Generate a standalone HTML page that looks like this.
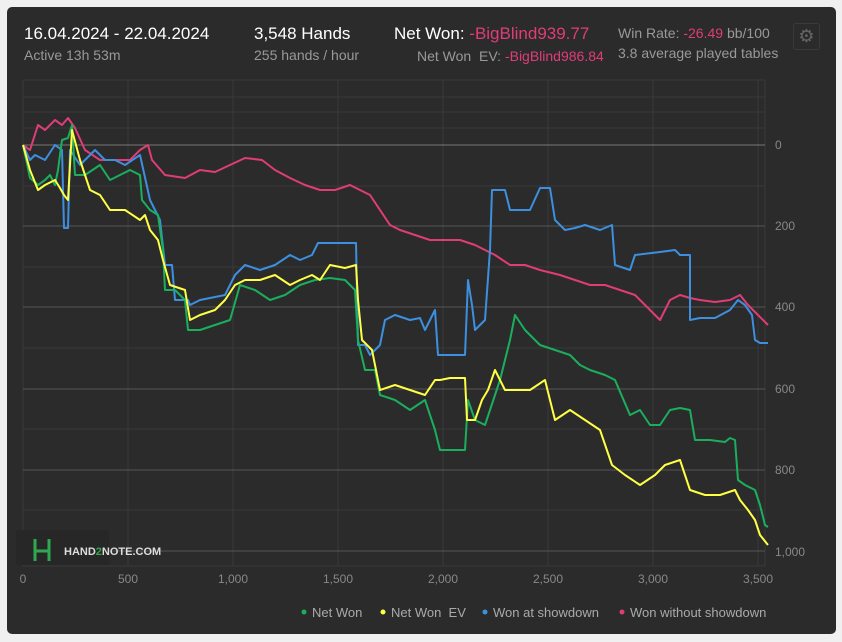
<!DOCTYPE html>
<html><head><meta charset="utf-8"><style>
body{margin:0;background:#f0f0f0;width:842px;height:642px;overflow:hidden;font-family:"Liberation Sans",sans-serif}
.panel{position:absolute;left:7px;top:7px;width:829px;height:627px;background:#2b2b2b;border-radius:5px}
.t{position:absolute;white-space:nowrap}
</style></head><body>
<div class="panel"></div>
<div class="t" style="left:24px;top:24px;color:#fff;font-size:17px">16.04.2024 - 22.04.2024</div>
<div class="t" style="left:24px;top:47px;color:#999;font-size:14px">Active 13h 53m</div>
<div class="t" style="left:254px;top:24px;color:#fff;font-size:17px">3,548 Hands</div>
<div class="t" style="left:254px;top:47px;color:#999;font-size:14px">255 hands / hour</div>
<div class="t" style="left:394px;top:24px;color:#fff;font-size:17px">Net Won: <span style="color:#e03c78">-BigBlind939.77</span></div>
<div class="t" style="left:417px;top:48px;color:#999;font-size:14px">Net Won&nbsp; EV: <span style="color:#e03c78">-BigBlind986.84</span></div>
<div class="t" style="left:618px;top:25px;color:#999;font-size:14px">Win Rate: <span style="color:#e03c78">-26.49</span> bb/100</div>
<div class="t" style="left:618px;top:45px;color:#999;font-size:14px">3.8 average played tables</div>
<div style="position:absolute;left:793px;top:23px;width:25px;height:25px;border:1px solid #3a3a3a;border-radius:3px;color:#666;font-size:18px;text-align:center;line-height:25px">⚙</div>
<svg style="position:absolute;left:0;top:0" width="842" height="642">
<g stroke="#3a3a3a" stroke-width="1">
<line x1="23" y1="80" x2="765" y2="80"/><line x1="23" y1="97" x2="765" y2="97"/><line x1="23" y1="112" x2="765" y2="112"/><line x1="23" y1="128" x2="765" y2="128"/>
<line x1="23" y1="186" x2="765" y2="186"/><line x1="23" y1="267" x2="765" y2="267"/><line x1="23" y1="348" x2="765" y2="348"/><line x1="23" y1="429" x2="765" y2="429"/><line x1="23" y1="510" x2="765" y2="510"/>
<line x1="23" y1="80" x2="23" y2="566"/><line x1="128" y1="80" x2="128" y2="566"/><line x1="233" y1="80" x2="233" y2="566"/><line x1="338" y1="80" x2="338" y2="566"/><line x1="443" y1="80" x2="443" y2="566"/><line x1="548" y1="80" x2="548" y2="566"/><line x1="653" y1="80" x2="653" y2="566"/><line x1="758" y1="80" x2="758" y2="566"/><line x1="765" y1="80" x2="765" y2="566"/>
<line x1="23" y1="566" x2="765" y2="566"/>
</g>
<g stroke="#555" stroke-width="1">
<line x1="23" y1="145" x2="765" y2="145" stroke="#777"/><line x1="23" y1="226" x2="765" y2="226"/><line x1="23" y1="307" x2="765" y2="307"/><line x1="23" y1="389" x2="765" y2="389"/><line x1="23" y1="470" x2="765" y2="470"/><line x1="23" y1="551" x2="765" y2="551"/>
</g>
<g font-size="12" fill="#888" font-family="Liberation Sans,sans-serif">
<text x="775" y="149">0</text><text x="775" y="230">200</text><text x="775" y="311">400</text><text x="775" y="393">600</text><text x="775" y="474">800</text><text x="775" y="556">1,000</text>
<g text-anchor="middle"><text x="23" y="583">0</text><text x="128" y="583">500</text><text x="233" y="583">1,000</text><text x="338" y="583">1,500</text><text x="443" y="583">2,000</text><text x="548" y="583">2,500</text><text x="653" y="583">3,000</text><text x="758" y="583">3,500</text></g>
</g>
<rect x="16" y="530" width="93" height="35" fill="#272727"/>
<path d="M35 539v22M49 539v22M35 551h14" stroke="#2fa84f" stroke-width="3" fill="none"/>
<text x="64" y="555" font-size="11" font-weight="bold" fill="#ddd" font-family="Liberation Sans,sans-serif">HAND<tspan fill="#2fa84f">2</tspan>NOTE.COM</text>
<g fill="none" stroke-width="2" stroke-linejoin="round">
<polyline stroke="#e03c78" points="23,145 30,150 38,125 45,130 55,120 62,125 68,118 75,128 85,150 100,160 115,160 130,160 140,150 148,145 152,160 165,175 185,178 200,170 215,172 230,165 245,158 262,160 275,170 290,178 305,185 320,190 335,190 350,185 370,195 380,210 390,225 400,230 415,235 430,240 445,240 460,240 475,245 485,250 495,255 510,265 525,265 540,270 560,275 575,280 590,285 605,285 620,290 635,295 650,310 660,320 670,300 680,295 690,298 700,300 715,302 730,300 740,295 748,305 758,315 768,325"/>
<polyline stroke="#3d8fe0" points="23,145 30,160 35,155 45,160 55,145 62,150 64,228 68,228 70,150 80,165 95,150 105,160 115,160 125,165 140,155 150,200 160,220 165,265 172,265 175,300 188,300 190,305 200,300 225,295 235,275 245,265 260,270 275,265 290,255 300,260 312,255 318,243 330,243 356,243 358,345 365,345 370,355 380,345 385,320 395,315 410,320 420,318 425,330 435,310 438,355 465,355 468,280 472,305 475,330 485,320 490,250 492,190 505,190 510,210 530,210 540,188 550,188 555,220 565,230 575,228 585,225 600,230 612,225 615,265 630,270 635,255 660,252 675,250 680,255 690,255 690,320 700,318 715,318 730,310 738,300 745,305 752,315 755,340 760,343 768,343"/>
<polyline stroke="#1aaf5d" points="23,145 30,178 38,185 45,180 50,175 55,185 58,170 62,140 68,138 72,125 75,175 85,175 100,165 110,180 120,175 130,170 140,175 142,200 150,210 158,215 163,250 165,290 175,290 185,300 188,330 200,330 215,325 230,320 240,285 255,290 270,300 285,295 300,285 315,280 330,278 345,280 355,290 358,340 365,370 375,370 380,395 395,400 410,410 425,400 435,430 440,450 465,450 468,400 475,420 485,425 490,410 500,380 510,340 515,315 525,330 540,345 555,350 570,355 580,365 590,370 605,375 615,380 630,415 640,410 650,425 660,425 670,410 680,408 690,410 695,440 710,440 725,442 730,438 735,440 738,480 745,485 755,490 760,505 765,525 768,527"/>
<polyline stroke="#ffff44" points="23,145 30,170 38,190 45,185 55,180 60,188 64,195 68,200 72,130 80,160 90,190 100,195 110,210 125,210 140,220 145,215 150,230 158,240 163,260 170,285 185,290 190,320 200,315 215,310 225,300 235,285 245,280 260,280 275,275 290,285 300,280 312,275 320,280 330,265 345,268 356,265 358,300 362,340 372,350 380,390 395,385 410,390 425,395 435,380 440,380 450,378 465,378 467,420 475,420 482,400 488,390 495,370 505,390 515,390 530,390 545,380 555,420 570,410 585,420 600,430 612,465 625,475 640,485 655,475 665,465 680,460 690,490 705,495 720,495 735,490 740,500 748,510 755,520 760,535 768,545"/>
</g>
<g font-size="13" fill="#aaa" font-family="Liberation Sans,sans-serif">
<circle cx="304" cy="612" r="2.5" fill="#1aaf5d"/><text x="312" y="617">Net Won</text>
<circle cx="383" cy="612" r="2.5" fill="#ffff44"/><text x="391" y="617">Net Won&#160; EV</text>
<circle cx="485" cy="612" r="2.5" fill="#3d8fe0"/><text x="493" y="617">Won at showdown</text>
<circle cx="622" cy="612" r="2.5" fill="#e03c78"/><text x="630" y="617">Won without showdown</text>
</g>
</svg>
</body></html>
